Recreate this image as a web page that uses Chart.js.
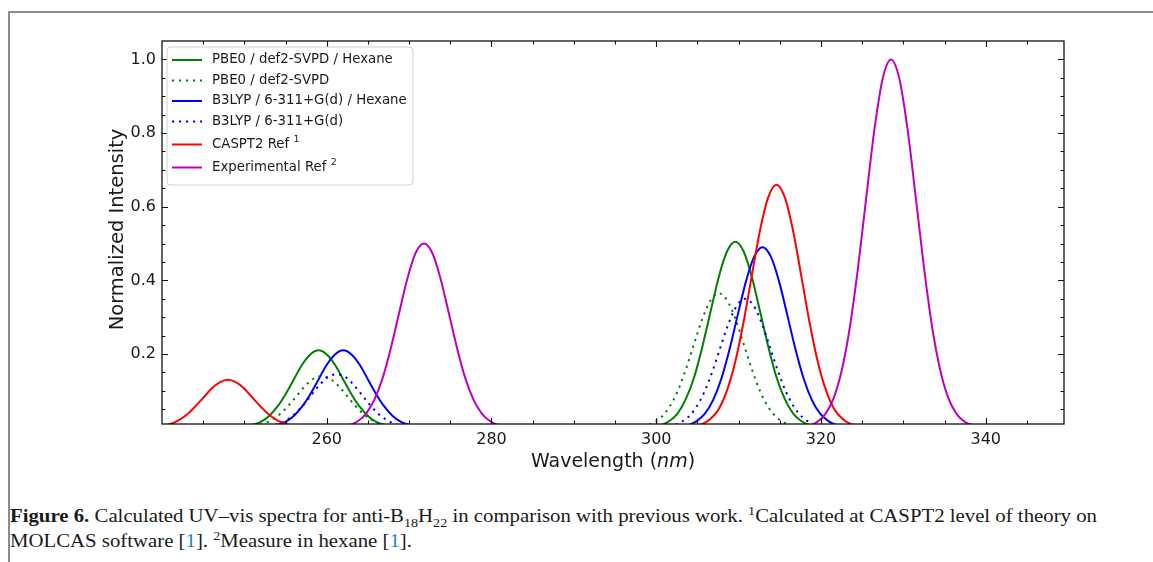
<!DOCTYPE html>
<html>
<head>
<meta charset="utf-8">
<title>UV-vis spectra anti-B18H22</title>
<script src="https://cdn.jsdelivr.net/npm/chart.js@4.4.1/dist/chart.umd.min.js"></script>
<style>
  html, body { margin: 0; padding: 0; background: #fff; }
  body { width: 1153px; height: 562px; position: relative; overflow: hidden; }
  #frame { position: absolute; left: 8px; top: 11px; right: 0; bottom: 0;
           border-top: 2px solid #8c8c8c; border-left: 2px solid #8c8c8c; }
  #wrap { position: absolute; left: 0; top: 0; width: 1153px; height: 490px; }
  #caption { position: absolute; left: 10px; top: 504px; white-space: nowrap;
             transform: scaleX(1.155); transform-origin: 0 0;
             font-family: "Liberation Serif", serif; font-size: 18px; line-height: 25px; color: #1a1a1a; }
  #caption sub, #caption sup { font-size: 68%; line-height: 0; }
  #caption .ref { color: #1f86c4; }
</style>
</head>
<body>
<div id="frame"></div>
<div id="wrap"><canvas id="uvChart" width="1153" height="490"></canvas></div>
<div id="caption"><b>Figure 6.</b> Calculated UV–vis spectra for anti-B<sub>18</sub>H<sub>22</sub> in comparison with previous work. <sup>1</sup>Calculated at CASPT2 level of theory on<br>MOLCAS software [<span class="ref">1</span>]. <sup>2</sup>Measure in hexane [<span class="ref">1</span>].</div>

<script>
// series labels (superscripts kept apart so they can be drawn raised)
const seriesLabels = ['PBE0 / def2-SVPD / Hexane', 'PBE0 / def2-SVPD', 'B3LYP / 6-311+G(d) / Hexane',
                      'B3LYP / 6-311+G(d)', 'CASPT2 Ref', 'Experimental Ref'];
const seriesSup = ['', '', '', '', '1', '2'];

// wavelength (nm) / normalized intensity
const pbe0HexWave = [249, 250, 251, 252, 253, 254, 255, 256, 257, 258, 259, 260, 261, 262, 263, 264, 265, 266, 267, 268, 269,
                     299.6, 300.6, 301.6, 302.6, 303.6, 304.6, 305.6, 306.6, 307.6, 308.6, 309.6, 310.6, 311.6, 312.6, 313.6, 314.6, 315.6, 316.6, 317.6, 318.6, 319.6];
const pbe0HexInt = [0.001, 0.003, 0.008, 0.016, 0.032, 0.057, 0.091, 0.131, 0.171, 0.199, 0.210, 0.199, 0.171, 0.131, 0.091, 0.057, 0.032, 0.016, 0.008, 0.003, 0.001,
                    0.003, 0.007, 0.018, 0.039, 0.078, 0.137, 0.220, 0.316, 0.410, 0.479, 0.505, 0.479, 0.410, 0.316, 0.220, 0.137, 0.078, 0.039, 0.018, 0.007, 0.003];

const pbe0GasWave = [249.4, 250.4, 251.4, 252.4, 253.4, 254.4, 255.4, 256.4, 257.4, 258.4, 259.4, 260.4, 261.4, 262.4, 263.4, 264.4, 265.4, 266.4, 267.4, 268.4, 269.4,
                     297.6, 298.6, 299.6, 300.6, 301.6, 302.6, 303.6, 304.6, 305.6, 306.6, 307.6, 308.6, 309.6, 310.6, 311.6, 312.6, 313.6, 314.6, 315.6, 316.6, 317.6];
const pbe0GasInt = [0.001, 0.002, 0.005, 0.011, 0.022, 0.038, 0.061, 0.088, 0.114, 0.133, 0.140, 0.133, 0.114, 0.088, 0.061, 0.038, 0.022, 0.011, 0.005, 0.002, 0.001,
                    0.002, 0.005, 0.013, 0.028, 0.056, 0.099, 0.159, 0.228, 0.296, 0.346, 0.365, 0.346, 0.296, 0.228, 0.159, 0.099, 0.056, 0.028, 0.013, 0.005, 0.002];

const b3lypHexWave = [252, 253, 254, 255, 256, 257, 258, 259, 260, 261, 262, 263, 264, 265, 266, 267, 268, 269, 270, 271, 272,
                      302.9, 303.9, 304.9, 305.9, 306.9, 307.9, 308.9, 309.9, 310.9, 311.9, 312.9, 313.9, 314.9, 315.9, 316.9, 317.9, 318.9, 319.9, 320.9, 321.9, 322.9];
const b3lypHexInt = [0.001, 0.003, 0.008, 0.016, 0.032, 0.057, 0.091, 0.131, 0.171, 0.199, 0.210, 0.199, 0.171, 0.131, 0.091, 0.057, 0.032, 0.016, 0.008, 0.003, 0.001,
                     0.003, 0.007, 0.018, 0.038, 0.075, 0.133, 0.213, 0.307, 0.398, 0.465, 0.490, 0.465, 0.398, 0.307, 0.213, 0.133, 0.075, 0.038, 0.018, 0.007, 0.003];

const b3lypGasWave = [251.2, 252.2, 253.2, 254.2, 255.2, 256.2, 257.2, 258.2, 259.2, 260.2, 261.2, 262.2, 263.2, 264.2, 265.2, 266.2, 267.2, 268.2, 269.2, 270.2, 271.2,
                      300.8, 301.8, 302.8, 303.8, 304.8, 305.8, 306.8, 307.8, 308.8, 309.8, 310.8, 311.8, 312.8, 313.8, 314.8, 315.8, 316.8, 317.8, 318.8, 319.8, 320.8];
const b3lypGasInt = [0.001, 0.002, 0.005, 0.011, 0.022, 0.039, 0.063, 0.091, 0.118, 0.138, 0.145, 0.138, 0.118, 0.091, 0.063, 0.039, 0.022, 0.011, 0.005, 0.002, 0.001,
                     0.002, 0.005, 0.013, 0.027, 0.054, 0.095, 0.152, 0.219, 0.284, 0.332, 0.350, 0.332, 0.284, 0.219, 0.152, 0.095, 0.054, 0.027, 0.013, 0.005, 0.002];

const caspt2Wave = [238, 239, 240, 241, 242, 243, 244, 245, 246, 247, 248, 249, 250, 251, 252, 253, 254, 255, 256, 257, 258,
                    304.6, 305.6, 306.6, 307.6, 308.6, 309.6, 310.6, 311.6, 312.6, 313.6, 314.6, 315.6, 316.6, 317.6, 318.6, 319.6, 320.6, 321.6, 322.6, 323.6, 324.6];
const caspt2Int = [0.001, 0.002, 0.005, 0.010, 0.020, 0.035, 0.057, 0.081, 0.106, 0.123, 0.130, 0.123, 0.106, 0.081, 0.057, 0.035, 0.020, 0.010, 0.005, 0.002, 0.001,
                   0.004, 0.010, 0.024, 0.051, 0.102, 0.180, 0.287, 0.413, 0.536, 0.626, 0.660, 0.626, 0.536, 0.413, 0.287, 0.180, 0.102, 0.051, 0.024, 0.010, 0.004];

const exptWave = [261.8, 262.8, 263.8, 264.8, 265.8, 266.8, 267.8, 268.8, 269.8, 270.8, 271.8, 272.8, 273.8, 274.8, 275.8, 276.8, 277.8, 278.8, 279.8, 280.8, 281.8,
                  318.5, 319.5, 320.5, 321.5, 322.5, 323.5, 324.5, 325.5, 326.5, 327.5, 328.5, 329.5, 330.5, 331.5, 332.5, 333.5, 334.5, 335.5, 336.5, 337.5, 338.5];
const exptInt = [0.003, 0.007, 0.018, 0.039, 0.077, 0.136, 0.218, 0.313, 0.406, 0.475, 0.500, 0.475, 0.406, 0.313, 0.218, 0.136, 0.077, 0.039, 0.018, 0.007, 0.003,
                 0.006, 0.015, 0.036, 0.078, 0.154, 0.272, 0.435, 0.626, 0.812, 0.949, 1.000, 0.949, 0.812, 0.626, 0.435, 0.272, 0.154, 0.078, 0.036, 0.015, 0.006];

// axis ticks
const waveTicks = [260, 280, 300, 320, 340];
const waveMinor = [245, 250, 255, 265, 270, 275, 285, 290, 295, 305, 310, 315, 325, 330, 335, 345];
const intTicks = [0.2, 0.4, 0.6, 0.8, 1.0];
const intMinor = [0.05, 0.1, 0.15, 0.25, 0.3, 0.35, 0.45, 0.5, 0.55, 0.65, 0.7, 0.75, 0.85, 0.9, 0.95];

const seriesWave = [pbe0HexWave, pbe0GasWave, b3lypHexWave, b3lypGasWave, caspt2Wave, exptWave];
const seriesInt = [pbe0HexInt, pbe0GasInt, b3lypHexInt, b3lypGasInt, caspt2Int, exptInt];
const seriesColor = ['#008000', '#008000', '#0000ff', '#0000ff', '#ff0000', '#bf00bf'];
const seriesDotted = [false, true, false, true, false, false];

const FONT = "'DejaVu Sans', sans-serif";

const datasets = seriesLabels.map((label, i) => ({
    label: label,
    data: seriesWave[i].map((w, j) => ({ x: w, y: seriesInt[i][j] })),
    borderColor: seriesColor[i],
    borderWidth: 2,
    borderDash: seriesDotted[i] ? [2.2, 4.8] : [],
    pointRadius: 0,
    cubicInterpolationMode: 'monotone',
    fill: false,
    order: seriesLabels.length - i, // later series on top, like matplotlib
}));

// frame, inward ticks (major + minor) on all four sides, axis titles, legend
const decorations = {
    id: 'decorations',
    afterDraw(chart) {
        const { ctx, chartArea: a, scales: { x, y } } = chart;
        ctx.save();
        ctx.strokeStyle = '#111';
        ctx.lineWidth = 1.3;
        ctx.strokeRect(a.left, a.top, a.right - a.left, a.bottom - a.top);

        ctx.lineWidth = 1.1;
        ctx.beginPath();
        const xTick = (v, len) => {
            const px = Math.round(x.getPixelForValue(v)) + 0.5;
            ctx.moveTo(px, a.bottom); ctx.lineTo(px, a.bottom - len);
            ctx.moveTo(px, a.top); ctx.lineTo(px, a.top + len);
        };
        const yTick = (v, len) => {
            const py = Math.round(y.getPixelForValue(v)) + 0.5;
            ctx.moveTo(a.left, py); ctx.lineTo(a.left + len, py);
            ctx.moveTo(a.right, py); ctx.lineTo(a.right - len, py);
        };
        waveTicks.forEach(v => xTick(v, 6));
        waveMinor.forEach(v => xTick(v, 3.5));
        intTicks.forEach(v => yTick(v, 6));
        intMinor.forEach(v => yTick(v, 3.5));
        ctx.stroke();

        // x title with italic unit
        ctx.fillStyle = '#1a1a1a';
        ctx.textBaseline = 'middle';
        ctx.textAlign = 'left';
        const parts = [['Wavelength (', 'normal'], ['nm', 'italic'], [')', 'normal']];
        let total = 0;
        parts.forEach(p => { ctx.font = p[1] + ' 19px ' + FONT; total += ctx.measureText(p[0]).width; });
        let tx = (a.left + a.right) / 2 - total / 2;
        parts.forEach(p => {
            ctx.font = p[1] + ' 19px ' + FONT;
            ctx.fillText(p[0], tx, a.bottom + 38);
            tx += ctx.measureText(p[0]).width;
        });

        // y title
        ctx.save();
        ctx.translate(a.left - 44, (a.top + a.bottom) / 2 - 3);
        ctx.rotate(-Math.PI / 2);
        ctx.textAlign = 'center';
        ctx.font = '19.5px ' + FONT;
        ctx.fillText('Normalized Intensity', 0, 0);
        ctx.restore();

        // legend box, upper left inside the axes
        const lx = a.left + 5, ly = a.top + 6, lw = 246, lh = 138;
        ctx.beginPath();
        ctx.roundRect(lx, ly, lw, lh, 4);
        ctx.fillStyle = 'rgba(255,255,255,0.8)';
        ctx.fill();
        ctx.strokeStyle = '#d0d0d0';
        ctx.lineWidth = 1;
        ctx.stroke();

        chart.data.datasets.forEach((ds, i) => {
            const ry = a.top + 19 + i * 20.5 + (i >= 4 ? (i - 3) * 2.5 : 0);
            ctx.beginPath();
            ctx.setLineDash(ds.borderDash);
            ctx.strokeStyle = ds.borderColor;
            ctx.lineWidth = 2;
            ctx.moveTo(a.left + 10, ry);
            ctx.lineTo(a.left + 40, ry);
            ctx.stroke();
            ctx.setLineDash([]);

            ctx.fillStyle = '#1a1a1a';
            ctx.font = '13.3px ' + FONT;
            ctx.textBaseline = 'middle';
            ctx.fillText(ds.label, a.left + 50, ry);
            if (seriesSup[i]) {
                const w = ctx.measureText(ds.label + ' ').width;
                ctx.font = '9.5px ' + FONT;
                ctx.fillText(seriesSup[i], a.left + 50 + w, ry - 5);
            }
        });
        ctx.restore();
    }
};

const ctx = document.getElementById('uvChart').getContext('2d');
const uvChart = new Chart(ctx, {
    type: 'line',
    data: { datasets: datasets },
    options: {
        responsive: false,
        animation: false,
        devicePixelRatio: 1,
        layout: { padding: { left: 0, top: 41, right: 89, bottom: 16 } },
        plugins: { legend: { display: false }, tooltip: { enabled: false } },
        scales: {
            x: {
                type: 'linear',
                min: 240,
                max: 349.5,
                grid: { display: false, drawTicks: false },
                border: { display: false },
                afterBuildTicks: s => { s.ticks = waveTicks.map(v => ({ value: v })); },
                afterFit: s => { s.height = 50; },
                ticks: { font: { family: FONT, size: 16 }, color: '#1a1a1a', padding: 6,
                         maxRotation: 0, autoSkip: false, callback: v => v }
            },
            y: {
                type: 'linear',
                min: 0.01,
                max: 1.05,
                grid: { display: false, drawTicks: false },
                border: { display: false },
                afterBuildTicks: s => { s.ticks = intTicks.map(v => ({ value: v })); },
                afterFit: s => { s.width = 162; },
                ticks: { font: { family: FONT, size: 16 }, color: '#1a1a1a', padding: 6,
                         autoSkip: false, callback: v => v.toFixed(1) }
            }
        }
    },
    plugins: [decorations]
});
</script>
</body>
</html>
